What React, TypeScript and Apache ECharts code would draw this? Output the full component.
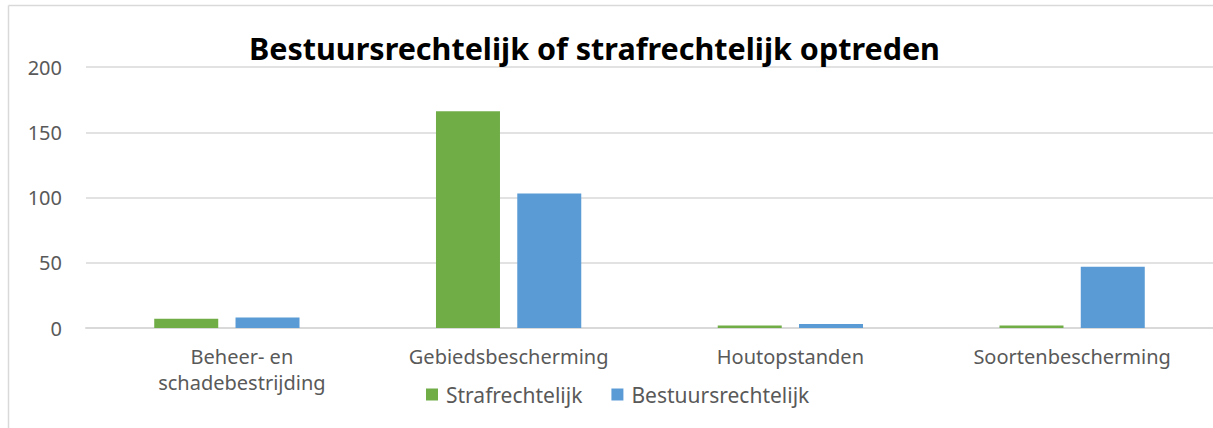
import React, { useEffect, useRef } from "react";
import * as echarts from "echarts";

const categories = ["Beheer- en\nschadebestrijding", "Gebiedsbescherming", "Houtopstanden", "Soortenbescherming"];
const strafrechtelijk = [7, 166, 2, 2];
const bestuursrechtelijk = [8, 103, 3, 47];
const yTicks = { min: 0, max: 200, interval: 50 };

const FONT = "'Noto Sans', 'Open Sans', sans-serif";

export default function App() {
  const ref = useRef<HTMLDivElement>(null);
  useEffect(() => {
    const chart = echarts.init(ref.current!, null, { renderer: "svg" });
    const catData = categories.map((c, i) =>
      i === 0 ? { value: c, textStyle: { padding: [0, 0, 0, 30] } } : c
    );
    chart.setOption({
      animation: false,
      backgroundColor: "#ffffff",
      title: {
        text: "Bestuursrechtelijk of strafrechtelijk optreden",
        left: 244,
        top: 27,
        textStyle: { fontFamily: FONT, fontWeight: "bold", fontSize: 30.5, color: "#000000" },
      },
      legend: {
        left: 421,
        top: 379,
        itemWidth: 12,
        itemHeight: 12,
        itemGap: 29,
        icon: "rect",
        textStyle: { fontFamily: FONT, fontSize: 21, color: "#595959", padding: [0, 0, 0, 3] },
        data: ["Strafrechtelijk", "Bestuursrechtelijk"],
      },
      grid: { left: 86, top: 67, width: 1130, height: 261, containLabel: false },
      xAxis: {
        type: "category",
        data: catData,
        axisLine: { lineStyle: { color: "#d9d9d9", width: 2 } },
        axisTick: { show: false },
        axisLabel: { fontFamily: FONT, fontSize: 20, color: "#595959", margin: 15, lineHeight: 26, interval: 0 },
      },
      yAxis: {
        type: "value",
        min: yTicks.min,
        max: yTicks.max,
        interval: yTicks.interval,
        axisLine: { show: false },
        axisTick: { show: false },
        splitLine: { lineStyle: { color: "#d9d9d9", width: 1.5 } },
        axisLabel: { fontFamily: FONT, fontSize: 20, color: "#595959", margin: 24 },
      },
      series: [
        {
          name: "Strafrechtelijk",
          type: "bar",
          data: strafrechtelijk,
          itemStyle: { color: "#70ad47" },
          barWidth: 64,
          barGap: "27%",
        },
        {
          name: "Bestuursrechtelijk",
          type: "bar",
          data: bestuursrechtelijk,
          itemStyle: { color: "#5b9bd5" },
          barWidth: 64,
          barGap: "27%",
        },
      ],
      graphic: [
        {
          type: "line",
          shape: { x1: 8.5, y1: 5.5, x2: 1213, y2: 5.5 },
          style: { stroke: "#d9d9d9", lineWidth: 1.5 },
          silent: true,
        },
        {
          type: "line",
          shape: { x1: 8.5, y1: 5.5, x2: 8.5, y2: 428 },
          style: { stroke: "#d9d9d9", lineWidth: 1.5 },
          silent: true,
        },
      ],
    });
    return () => chart.dispose();
  }, []);
  return <div ref={ref} style={{ position: "fixed", left: 0, top: 0, width: 1213, height: 428 }} />;
}
